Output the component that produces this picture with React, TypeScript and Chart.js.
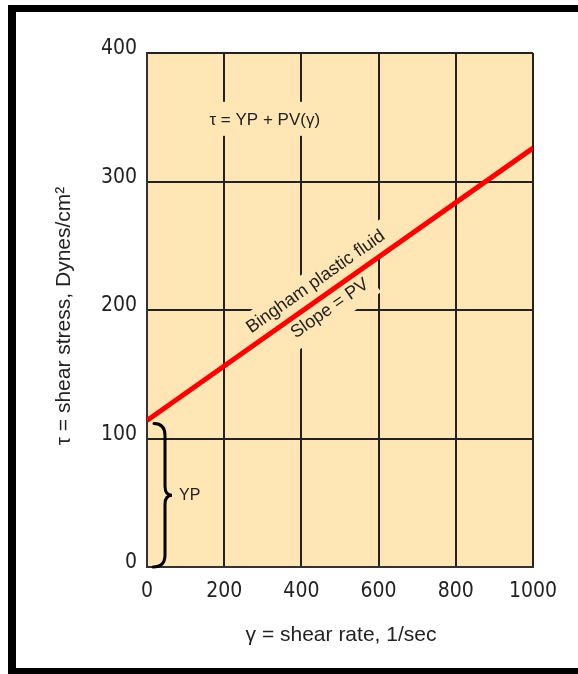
import React, { useEffect, useRef } from "react";
import { Chart, registerables } from "chart.js";

Chart.register(...registerables);

// ---- data ----
const shearRate = [0, 1000];
const shearStress = [114, 326];
const xTickValues = [0, 200, 400, 600, 800, 1000];
const yTickValues = [0, 100, 200, 300, 400];
const xTitle = "γ = shear rate, 1/sec";
const yTitle = "τ = shear stress, Dynes/cm²";
const formulaText = "τ = YP + PV(γ)";
const lineLabel = "Bingham plastic fluid";
const slopeLabel = "Slope = PV";
const ypLabel = "YP";
const formulaPos = [305, 348]; // data coords
const lineLabelAt = 461; // x (data) along line
const slopeLabelAt = 453;

const BG = "#FFE6B4";
const INK = "#222";
const TICKFONT = "'DejaVu Sans Condensed', 'Liberation Sans', Arial, sans-serif";
const SANS = "'Liberation Sans', Arial, sans-serif";

const annotationPlugin = {
  id: "annotations",
  beforeDraw(chart: any) {
    const { ctx, chartArea: a } = chart;
    ctx.save();
    ctx.fillStyle = "#fff";
    ctx.fillRect(0, 0, chart.width, chart.height);
    ctx.fillStyle = BG;
    ctx.fillRect(a.left, a.top, a.right - a.left, a.bottom - a.top);
    ctx.restore();
  },
  beforeDatasetsDraw(chart: any) {
    const { ctx } = chart;
    const xs = chart.scales.x;
    const ys = chart.scales.y;
    ctx.save();
    // formula
    ctx.font = `17px ${SANS}`;
    ctx.textAlign = "center";
    ctx.textBaseline = "middle";
    const fx = xs.getPixelForValue(formulaPos[0]);
    const fy = ys.getPixelForValue(formulaPos[1]);
    const fw = ctx.measureText(formulaText).width;
    ctx.fillStyle = BG;
    ctx.fillRect(fx - fw / 2 - 8, fy - 18, fw + 16, 34);
    ctx.fillStyle = INK;
    ctx.fillText(formulaText, fx, fy);

    // rotated labels along the line
    const p0x = xs.getPixelForValue(shearRate[0]);
    const p0y = ys.getPixelForValue(shearStress[0]);
    const p1x = xs.getPixelForValue(shearRate[1]);
    const p1y = ys.getPixelForValue(shearStress[1]);
    const ang = Math.atan2(p1y - p0y, p1x - p0x);
    const drawAlong = (txt: string, xv: number, off: number, boxFrom: number, boxTo: number) => {
      const px = xs.getPixelForValue(xv);
      const py = p0y + ((px - p0x) * (p1y - p0y)) / (p1x - p0x);
      ctx.save();
      ctx.translate(px, py);
      ctx.rotate(ang);
      ctx.font = `18px ${SANS}`;
      const w = ctx.measureText(txt).width;
      ctx.fillStyle = BG;
      ctx.fillRect(-w / 2 - 6, boxFrom, w + 12, boxTo - boxFrom);
      ctx.fillStyle = INK;
      ctx.textAlign = "center";
      ctx.textBaseline = "middle";
      ctx.fillText(txt, 0, off);
      ctx.restore();
    };
    drawAlong(lineLabel, lineLabelAt, -16, -30, 0);
    drawAlong(slopeLabel, slopeLabelAt, 14, 0, 30);
    ctx.restore();
  },
  afterDatasetsDraw(chart: any) {
    const { ctx } = chart;
    const xs = chart.scales.x;
    const ys = chart.scales.y;
    const x0 = xs.getPixelForValue(0);
    const yTop = ys.getPixelForValue(shearStress[0]) + 3;
    const yBot = ys.getPixelForValue(0);
    const ym = (yTop + yBot) / 2;
    const sx = x0 + 18;
    ctx.save();
    ctx.strokeStyle = "#000";
    ctx.lineWidth = 3;
    ctx.lineCap = "round";
    ctx.beginPath();
    ctx.moveTo(x0 + 7, yTop);
    ctx.quadraticCurveTo(sx, yTop, sx, yTop + 12);
    ctx.lineTo(sx, ym - 9);
    ctx.quadraticCurveTo(sx, ym, sx + 7, ym);
    ctx.quadraticCurveTo(sx, ym, sx, ym + 9);
    ctx.lineTo(sx, yBot - 12);
    ctx.quadraticCurveTo(sx, yBot, x0 + 6, yBot);
    ctx.stroke();
    ctx.fillStyle = INK;
    ctx.font = `16px ${SANS}`;
    ctx.textAlign = "left";
    ctx.textBaseline = "middle";
    ctx.fillText(ypLabel, sx + 14, ym);
    ctx.restore();
  },
  afterDraw(chart: any) {
    const { ctx } = chart;
    ctx.save();
    // frame
    ctx.fillStyle = "#000";
    ctx.fillRect(8, 5, 8, 669);
    ctx.fillRect(8, 5, 570, 7);
    ctx.fillRect(8, 668, 570, 6);
    // axis titles
    ctx.fillStyle = INK;
    ctx.font = `21px ${SANS}`;
    ctx.textAlign = "center";
    ctx.textBaseline = "alphabetic";
    ctx.fillText(xTitle, 341, 641);
    ctx.translate(70, 316);
    ctx.rotate(-Math.PI / 2);
    ctx.font = `21px ${SANS}`;
    ctx.fillText(yTitle, 0, 0);
    ctx.restore();
  },
};

export default function App() {
  const ref = useRef<HTMLCanvasElement | null>(null);
  useEffect(() => {
    if (!ref.current) return;
    const chart = new Chart(ref.current, {
      type: "line",
      data: {
        datasets: [
          {
            data: shearRate.map((x, i) => ({ x, y: shearStress[i] })),
            borderColor: "#FF0000",
            borderWidth: 5,
            pointRadius: 0,
            fill: false,
            tension: 0,
          },
        ],
      },
      options: {
        animation: false,
        responsive: false,
        events: [],
        layout: { padding: { top: 53, right: 45, left: 0, bottom: 0 } },
        plugins: { legend: { display: false }, tooltip: { enabled: false } },
        scales: {
          x: {
            type: "linear",
            min: 0,
            max: 1000,
            afterFit: (s: any) => {
              s.height = 107;
            },
            afterBuildTicks: (s: any) => {
              s.ticks = xTickValues.map((v) => ({ value: v }));
            },
            grid: { color: INK, lineWidth: 2, drawTicks: false },
            border: { color: "#333", width: 2 },
            ticks: {
              padding: 12,
              color: INK,
              font: { family: TICKFONT, size: 21 },
              maxRotation: 0,
              callback: (v: any) => String(v),
            },
          },
          y: {
            type: "linear",
            min: 0,
            max: 400,
            afterFit: (s: any) => {
              s.width = 147;
            },
            afterBuildTicks: (s: any) => {
              s.ticks = yTickValues.map((v) => ({ value: v }));
            },
            grid: { color: INK, lineWidth: 2, drawTicks: false },
            border: { color: "#333", width: 2 },
            ticks: {
              padding: 10,
              labelOffset: -4,
              color: INK,
              font: { family: TICKFONT, size: 21 },
              callback: (v: any) => String(v),
            },
          },
        },
      },
      plugins: [annotationPlugin],
    } as any);
    return () => chart.destroy();
  }, []);
  return (
    <div style={{ position: "absolute", left: 0, top: 0, width: 578, height: 674 }}>
      <canvas ref={ref} width={578} height={674} style={{ display: "block" }} />
    </div>
  );
}
